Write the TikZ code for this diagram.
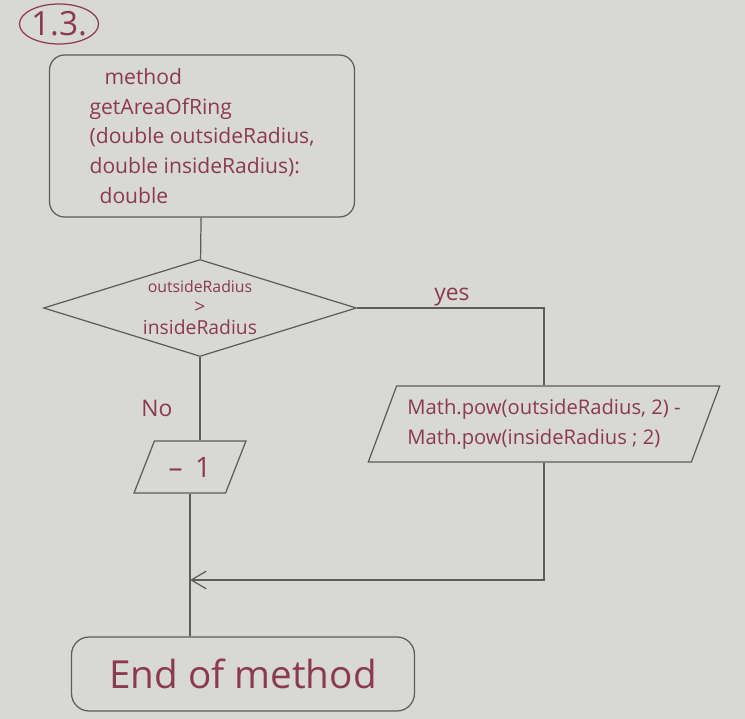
\documentclass[tikz,border=0pt]{standalone}
\usepackage{fontspec}
\setmainfont{Open Sans}
\usetikzlibrary{shapes.geometric,arrows.meta}
\definecolor{paper}{RGB}{216,216,213}
\definecolor{ink}{RGB}{140,58,78}
\definecolor{pencil}{RGB}{92,92,92}

\begin{document}
\begin{tikzpicture}[x=0.02cm,y=-0.02cm,line width=0.7pt,color=pencil,>={Straight Barb[length=3mm,width=3.5mm]},
    every node/.style={text=ink},
    ring/.style={ellipse,draw=ink,minimum width=1.44cm,minimum height=0.8cm,inner sep=0pt,font=\fontsize{19}{20}\selectfont},
    start node/.style={rectangle,draw,rounded corners=0.3cm,minimum width=6.1cm,minimum height=3.24cm,align=left,font=\fontsize{12}{17}\selectfont},
    cond node/.style={diamond,draw,aspect=3.2,minimum width=6.26cm,minimum height=1.94cm,inner sep=-2pt,align=center,font=\fontsize{11}{12}\selectfont},
    io node/.style={trapezium,trapezium stretches=true,draw,inner xsep=0pt},
    end node/.style={rectangle,draw,rounded corners=0.35cm,minimum width=6.86cm,minimum height=1.48cm,font=\fontsize{22}{24}\selectfont},
    lbl/.style={font=\fontsize{13}{14}\selectfont}]
    \fill[paper] (0,0) rectangle (745,719);
    \useasboundingbox (0,0) rectangle (745,719);

    \node[ring] (num) at (59,24) {1.3.};
    \node[start node] (start) at (202,136) {\hspace*{0.3cm}method\\getAreaOfRing\\(double outsideRadius,\\double insideRadius):\\\hspace*{0.2cm}double};
    \node[cond node] (cond) at (200,308) {{\fontsize{9}{10}\selectfont outsideRadius}\\>\\insideRadius};
    \node[io node,trapezium left angle=67,trapezium right angle=113,minimum width=7.04cm,minimum height=1.52cm,align=left,font=\fontsize{11.5}{17}\selectfont] (calc) at (544,424) {Math.pow(outsideRadius, 2) -\\Math.pow(insideRadius ; 2)};
    \node[io node,trapezium left angle=69,trapezium right angle=111,minimum width=2.24cm,minimum height=1.04cm,font=\fontsize{16}{17}\selectfont] (minus) at (190,467) {--\hspace{0.25cm}1};
    \node[end node] (end) at (243,674) {End of method};

    \node[lbl] (yes) at (452,297) {yes};
    \node[lbl] (no) at (157,408) {No};

    \coordinate (join) at (190,580);

    \draw (start) -- (cond);
    \draw (cond.east) -| (calc.north);
    \draw (cond.south) -- (cond.south |- minus.north);
    \draw (minus.south) -- (minus.south |- end.north);
    \draw[->] (calc.south) |- (join);
\end{tikzpicture}
\end{document}
